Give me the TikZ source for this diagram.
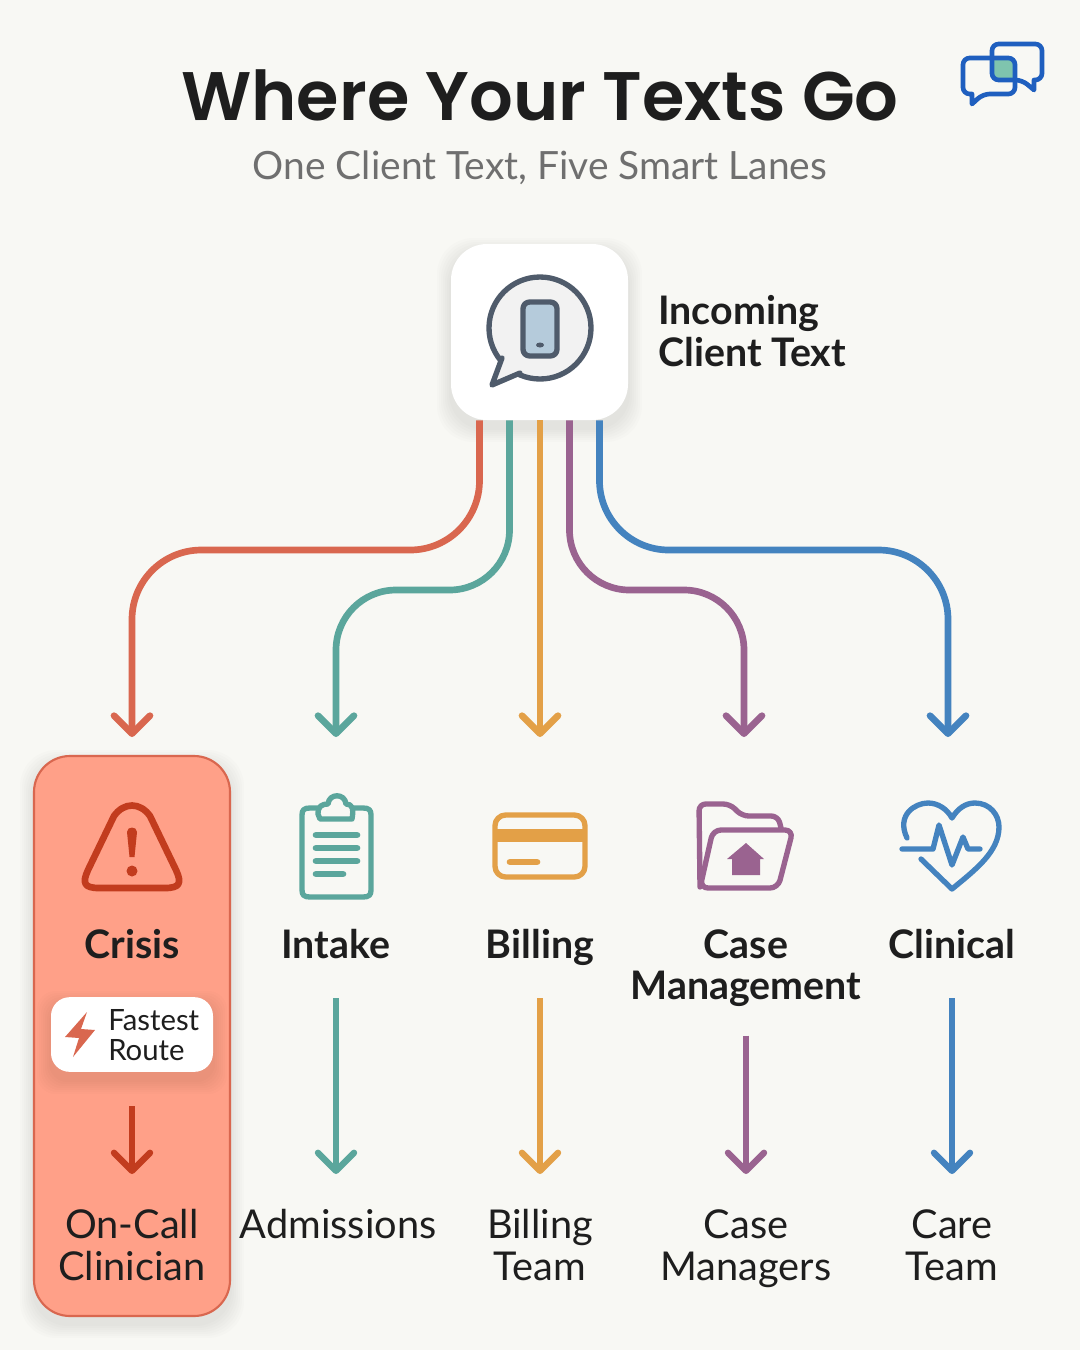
\documentclass[tikz,border=0pt]{standalone}
\usepackage{fontspec}
\setmainfont{Lato}
\newfontfamily\titlefont{Poppins SemiBold}
\usetikzlibrary{arrows.meta,calc}
\definecolor{Paper}{HTML}{F8F8F4}
\definecolor{Ink}{HTML}{1E1E1E}
\definecolor{Subtle}{HTML}{6F6F6F}
\definecolor{Red}{HTML}{D9674F}
\definecolor{DeepRed}{HTML}{C23C1E}
\definecolor{Salmon}{HTML}{FFA088}
\definecolor{Teal}{HTML}{5BA69C}
\definecolor{Orange}{HTML}{E3A047}
\definecolor{Purple}{HTML}{9A6390}
\definecolor{Blue}{HTML}{4483BF}
\definecolor{Slate}{HTML}{4F5B6B}
\definecolor{Screen}{HTML}{B5CBDB}
\definecolor{Royal}{HTML}{1F5FBF}
\definecolor{Mint}{HTML}{7FC4AE}
\tikzset{lane/.style ={
        draw,
        line width=5pt,
        -{Straight Barb[length=13.5pt,width=27pt,round]},
    },
    lanelong/.style ={
        lane,
        line width=4.8pt,
        shorten <=21pt,
        shorten >=25.5pt,
    },
    icon/.style ={
        draw,
        line width=4pt,
        line cap=round,
        line join=round,
    },
    head/.style ={
        font=\fontsize{29.5}{29}\selectfont\bfseries,
        text=Ink,
        align=center,
        anchor=north,
        inner sep=0pt,
    },
    target/.style ={
        font=\fontsize{29.8}{32}\selectfont,
        text=Ink,
        align=center,
        anchor=north,
        inner sep=0pt,
    },
    card/.style ={
        rectangle,
        inner sep=0pt,
    }}
% stack of faint rounded boxes, used as a soft shadow
\newcommand{\softshadow}[5]{
	\foreach \k in {1,...,7} {
		\fill[black,opacity=.012,rounded corners=#5pt]
			(#1-\k*2,#2-\k*2+8) rectangle (#3+\k*2,#4+\k*2+8);
	}
}

\begin{document}
\begin{tikzpicture}[x=.75pt,y=-.75pt]
	\useasboundingbox[fill=Paper] (0,0) rectangle (1080,1350);

	\node[text=Ink] (title) at (540,95) {\titlefont\fontsize{51.5}{60}\selectfont Where Your Texts Go};
	\node[text=Subtle] (subtitle) at (540,168) {\fontsize{29.2}{32}\selectfont One Client Text, Five Smart Lanes};

	% chat icon, top right
	\fill[Mint] (992,58) rectangle (1015,80);
	\draw[icon,Royal,line width=3.5pt,rounded corners=5pt] (1022,80) [sharp corners] -- (1034,90) -- (1034,80) [rounded corners=5pt] -- (1042,80) -- (1042,44) -- (992,44) -- (992,80) -- cycle;
	\draw[icon,Royal,line width=3.5pt,rounded corners=5pt] (983,94) [sharp corners] -- (972,104) -- (972,94) [rounded corners=5pt] -- (963,94) -- (963,58) -- (1015,58) -- (1015,94) -- cycle;

	% incoming text
	\softshadow{451}{244}{628}{420}{27}
	\node[card,fill=white,rounded corners=27pt,minimum width=132.75pt,minimum height=132pt] (src) at (539.5,332) {};
	\node[anchor=west,font=\fontsize{29.5}{32}\selectfont\bfseries,text=Ink,align=left,inner sep=0pt] (srclabel) at (658,331) {Incoming\\Client Text};

	\fill[gray!10] (540,328) circle [radius=51];
	\fill[gray!10] (502,360) -- (492,385) -- (520,373) -- cycle;
	\draw[icon,Slate] (540,328) circle [radius=51];
	\fill[gray!10] (503,356) -- (497,378) -- (524,372) -- (515,362) -- cycle;
	\draw[icon,Slate] (502,358) -- (492,385) -- (520,373);
	\draw[icon,Slate,fill=Screen,rounded corners=5pt] (523,302) rectangle (557,356);
	\fill[Slate] (540,345) ellipse [x radius=4,y radius=2.5];

	\coordinate (bendcrisis) at (132,550);
	\coordinate (bendintake) at (336,590);
	\coordinate (bendcase) at (744,590);
	\coordinate (bendclinical) at (948,550);
	\coordinate (tipcrisis) at (132,737);
	\coordinate (tipintake) at (336,737);
	\coordinate (tipbilling) at (540,737);
	\coordinate (tipcase) at (744,737);
	\coordinate (tipclinical) at (948,737);

	\draw[lane,Red,rounded corners=52pt] ($(src.south)+(-60,0)$) |- (bendcrisis) -- (tipcrisis);
	\draw[lane,Teal,rounded corners=45pt] ($(src.south)+(-30,0)$) |- (bendintake) -- (tipintake);
	\draw[lane,Orange] (tipbilling |- src.south) -- (tipbilling);
	\draw[lane,Purple,rounded corners=45pt] ($(src.south)+(30,0)$) |- (bendcase) -- (tipcase);
	\draw[lane,Blue,rounded corners=52pt] ($(src.south)+(60,0)$) |- (bendclinical) -- (tipclinical);

	% crisis card
	\softshadow{34}{756}{230}{1316}{27}
	\node[card,draw=Red,line width=1.6pt,fill=Salmon,rounded corners=27pt,minimum width=147pt,minimum height=420pt] (crisiscard) at (132,1036) {};

	\draw[icon,DeepRed,line width=5pt] (114,816) .. controls (124,802) and (140,802) .. (150,816) -- (176,870) .. controls (182,883) and (180,888) .. (165,888) -- (99,888) .. controls (84,888) and (82,883) .. (88,870) -- cycle;
	\fill[DeepRed] (127,832) .. controls (127,826) and (137,826) .. (137,832) -- (134.5,857) -- (129.5,857) -- cycle;
	\fill[DeepRed] (132,871) circle [radius=5.5];

	\node[head] (crisis) at (132,929) {Crisis\strut};
	\softshadow{51}{997}{213}{1072}{14}
	\node[card,fill=white,rounded corners=14pt,minimum width=121.5pt,minimum height=56pt] (badge) at (132,1034.5) {};
	\fill[Red,line join=round] (87,1012) -- (65,1037) -- (79,1038) -- (73,1057) -- (95,1030) -- (81,1029) -- cycle;
	\node[anchor=west,font=\fontsize{22}{22.5}\selectfont,text=Ink,align=left,inner sep=0pt] (badgetext) at (108,1035) {Fastest\\Route};
	\node[target] (oncall) at (132,1208) {On-Call\strut\\Clinician\strut};
	\draw[lanelong,DeepRed,shorten <=25.5pt] (badge.south) -- (oncall.north);

	% intake
	\draw[icon,Teal] (318,808) -- (310,808) .. controls (304,808) and (302,810) .. (302,815) -- (302,890) .. controls (302,895) and (304,897) .. (310,897) -- (363,897) .. controls (369,897) and (371,895) .. (371,890) -- (371,815) .. controls (371,810) and (369,808) .. (363,808) -- (354,808);
	\draw[icon,Teal,line width=4pt] (318,814) .. controls (318,806) and (322,804) .. (328,804) .. controls (329,793) and (345,793) .. (346,804) .. controls (352,804) and (354,808) .. (352,819) -- (320,819) -- cycle;
	\foreach \y/\x in {835/357,848/357,861/357,874/343} {
		\draw[icon,Teal,line width=5pt] (316,\y) -- (\x,\y);
	}
	\node[head] (intake) at (336,929) {Intake\strut};
	\node[target] (admissions) at (338,1208) {Admissions\strut};

	% billing
	\draw[icon,Orange,rounded corners=8pt] (495,815) rectangle (585,877);
	\fill[Orange] (495,829) rectangle (585,842);
	\draw[icon,Orange,line width=5pt] (510,862) -- (537,862);
	\node[head] (billing) at (540,929) {Billing\strut};
	\node[target] (billingteam) at (540,1208) {Billing\strut\\Team\strut};

	% case management
	\draw[icon,Purple,rounded corners=5pt] (700,887) -- (699,804) -- (730,804) -- (742,816) -- (778,816) -- (781,828);
	\draw[icon,Purple,rounded corners=6pt] (713,830) -- (793,830) -- (778,888) -- (700,888) -- cycle;
	\fill[Purple,line join=round] (746,843) -- (727,859) -- (732,859) -- (732,875) -- (760,875) -- (760,859) -- (764,859) -- cycle;
	\node[head] (casemgmt) at (746,929) {Case\strut\\Management\strut};
	\node[target] (casemanagers) at (746,1208) {Case\strut\\Managers\strut};

	% clinical
	\draw[icon,Blue] (907,838) .. controls (896,815) and (915,803) .. (928,803) .. controls (938,803) and (947,809) .. (952,818) .. controls (958,808) and (966,803) .. (975,803) .. controls (990,803) and (999,815) .. (999,827) .. controls (999,852) and (975,870) .. (952,889) -- (921,859);
	\draw[icon,Blue] (902,849) -- (933,849) -- (939,825) -- (952,865) -- (963,837) -- (968,849) -- (980,849);
	\node[head] (clinical) at (952,929) {Clinical\strut};
	\node[target] (careteam) at (952,1208) {Care\strut\\Team\strut};

	% second row of lanes
	\draw[lanelong,Teal] (intake.south) -- (intake.south |- admissions.north);
	\draw[lanelong,Orange] (billing.south) -- (billingteam.north);
	\draw[lanelong,Purple,shorten <=18.3pt] (casemgmt.south) -- (casemanagers.north);
	\draw[lanelong,Blue] (clinical.south) -- (careteam.north);
\end{tikzpicture}
\end{document}
